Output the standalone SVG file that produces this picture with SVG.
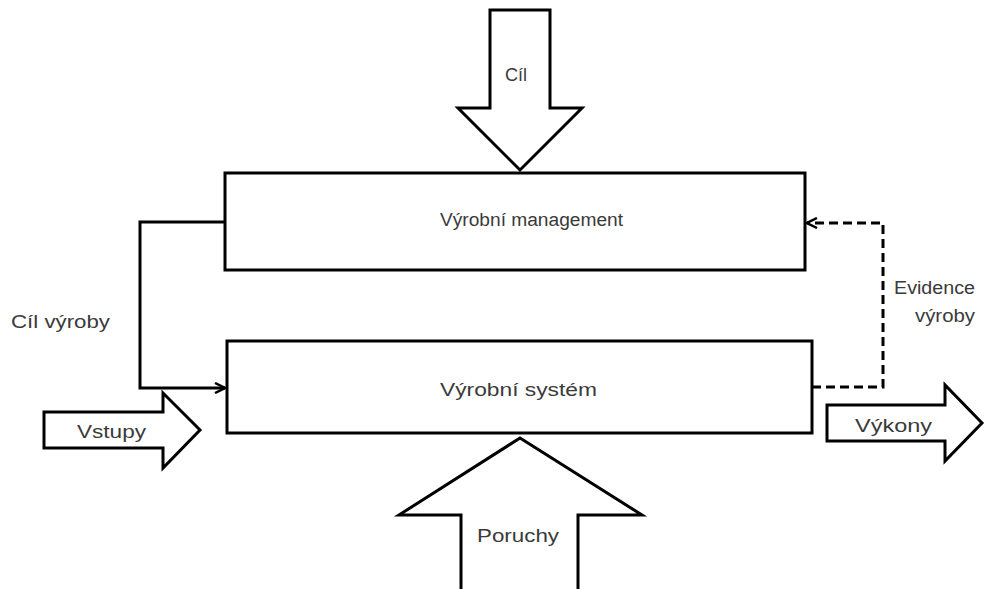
<svg xmlns="http://www.w3.org/2000/svg" width="985" height="589" viewBox="0 0 985 589">
<style>
.s{fill:#fff;stroke:#000;stroke-width:3;stroke-linejoin:miter}
.c{fill:none;stroke:#000;stroke-width:3}
.d{fill:none;stroke:#000;stroke-width:3;stroke-dasharray:9,5}
.t{font-family:"Liberation Sans",Arial,sans-serif;font-size:18px;fill:#3a3a3a}
</style>
<defs>
<marker id="ah" viewBox="0 0 12 12" refX="11" refY="6" markerWidth="12" markerHeight="12" markerUnits="userSpaceOnUse" orient="auto">
<path d="M1,1 L11,6 L1,11" fill="none" stroke="#000" stroke-width="2.5"/>
</marker>
</defs>
<rect width="985" height="589" fill="#fff"/>
<g id="cil">
<polygon class="s" points="490,10 550,10 550,108 582,108 520,170 458,108 490,108"/>
<text class="t" x="505" y="81" textLength="22" lengthAdjust="spacingAndGlyphs">Cíl</text>
</g>
<g id="management">
<rect class="s" x="225" y="173" width="580" height="97"/>
<text class="t" x="440" y="226" textLength="183" lengthAdjust="spacingAndGlyphs">Výrobní management</text>
</g>
<g id="system">
<rect class="s" x="227" y="341" width="585" height="92"/>
<text class="t" x="440" y="396" textLength="157" lengthAdjust="spacingAndGlyphs">Výrobní systém</text>
</g>
<g id="vstupy">
<polygon class="s" points="44,412 163,412 163,393 200,430 163,468 163,448 44,448"/>
<text class="t" x="77" y="438" textLength="69" lengthAdjust="spacingAndGlyphs">Vstupy</text>
</g>
<g id="vykony">
<polygon class="s" points="827,405 945,405 945,385 982,423 945,461 945,441 827,441"/>
<text class="t" x="855" y="432" textLength="77" lengthAdjust="spacingAndGlyphs">Výkony</text>
</g>
<g id="poruchy">
<polygon class="s" points="461,595 461,515 399,515 520,438 642,515 578,515 578,595"/>
<text class="t" x="477" y="542" textLength="82" lengthAdjust="spacingAndGlyphs">Poruchy</text>
</g>
<g id="connectors">
<polyline class="c" points="225,222 140,222 140,388 225,388" marker-end="url(#ah)"/>
<polyline class="d" points="812,387 883,387 883,223 807,223" marker-end="url(#ah)"/>
</g>
<g id="labels">
<text class="t" x="11" y="328" textLength="99" lengthAdjust="spacingAndGlyphs">Cíl výroby</text>
<text class="t" x="894" y="294" textLength="81" lengthAdjust="spacingAndGlyphs">Evidence</text>
<text class="t" x="915" y="322" textLength="60" lengthAdjust="spacingAndGlyphs">výroby</text>
</g>
</svg>
